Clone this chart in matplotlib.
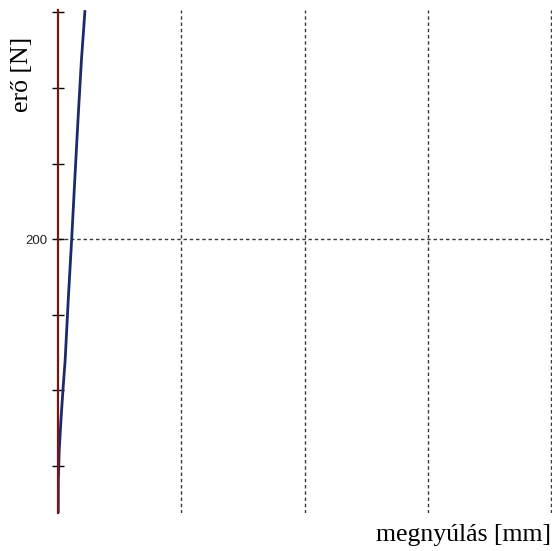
import matplotlib
matplotlib.use("Agg")
import matplotlib.pyplot as plt

# force-elongation curve
elongation_mm = [0.002, 0.003, 0.010, 0.024, 0.040, 0.058, 0.083, 0.111, 0.136, 0.162, 0.190, 0.219]
force_n = [19, 40.7, 60.5, 80.4, 100.2, 120, 159.7, 200, 239, 278.7, 318.3, 351.4]

y_ticks = [50, 100, 150, 200, 250, 300, 350]
y_tick_labels = ["", "", "", "200", "", "", ""]
x_grid = [1, 2, 3, 4]
y_grid = [200]

fig = plt.figure(figsize=(5.52, 5.51), dpi=100)
ax = fig.add_axes([58 / 552, 38 / 551, 494 / 552, 503 / 551])

ax.plot(elongation_mm, force_n, color="#1b2a6b", lw=2, solid_capstyle="butt")

for gx in x_grid:
    ax.axvline(gx, color="#3a3a3a", lw=1, dashes=(2.5, 2), zorder=0)
for gy in y_grid:
    ax.axhline(gy, color="#3a3a3a", lw=1, dashes=(2.5, 2), zorder=0)

ax.set_xlim(0, 4.008)
ax.set_ylim(19, 351.5)

ax.set_yticks(y_ticks)
ax.set_yticklabels(y_tick_labels, family="Liberation Sans", fontsize=9.5, color="#222222")
ax.tick_params(axis="y", direction="inout", length=9, width=1, color="black", pad=3)
ax.set_xticks([])

for s in ["top", "right", "bottom"]:
    ax.spines[s].set_visible(False)
ax.spines["left"].set_color("#7a1414")
ax.spines["left"].set_linewidth(1.6)

fig.text(21.5 / 552, (551 - 74.5) / 551, "erő [N]", rotation=90, ha="center", va="center",
         family="Liberation Serif", fontsize=18.5)
fig.text(551 / 552, (551 - 535.5) / 551, "megnyúlás [mm]", ha="right", va="center",
         family="Liberation Serif", fontsize=18.5)

fig.savefig("out.png", dpi=100)
